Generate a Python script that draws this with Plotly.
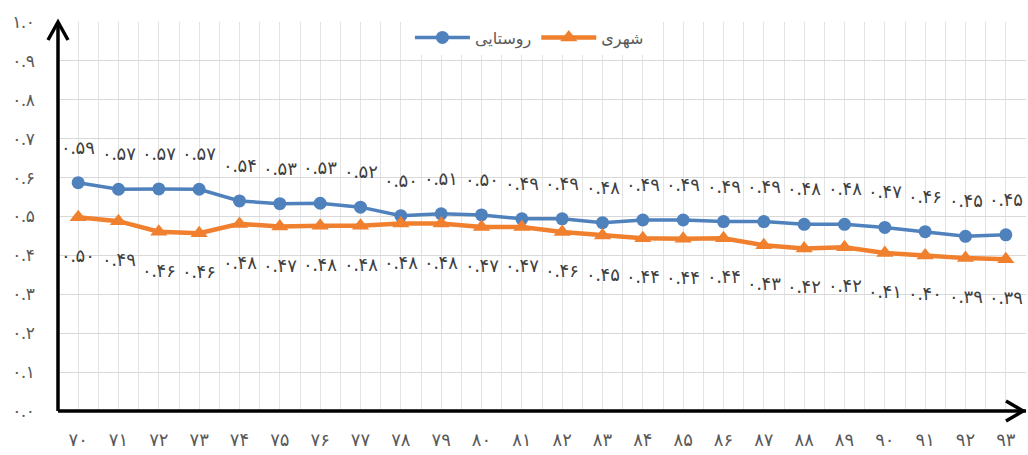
import plotly.graph_objects as go

years = list(range(70, 94))
rural = [0.587, 0.570, 0.571, 0.570, 0.540, 0.533, 0.534, 0.524, 0.502, 0.507, 0.504, 0.494,
         0.494, 0.484, 0.491, 0.491, 0.487, 0.487, 0.480, 0.480, 0.472, 0.461, 0.449, 0.453]
urban = [0.498, 0.488, 0.461, 0.457, 0.481, 0.474, 0.476, 0.476, 0.482, 0.482, 0.473, 0.473,
         0.460, 0.451, 0.444, 0.443, 0.444, 0.426, 0.418, 0.421, 0.406, 0.400, 0.393, 0.390]
rural_name = "روستایی"
urban_name = "شهری"
y_ticks = [i / 10 for i in range(11)]

FA = str.maketrans("0123456789", "۰۱۲۳۴۵۶۷۸۹")


def fa(s):
    return str(s).translate(FA)


FONT = "Noto Sans, DejaVu Sans, sans-serif"
GRAY = "#595959"

fig = go.Figure()
fig.add_trace(go.Scatter(
    x=years, y=rural, name=rural_name, mode="lines+markers",
    line=dict(color="#4F81BD", width=3.5),
    marker=dict(symbol="circle", size=13, color="#4F81BD"),
))
fig.add_trace(go.Scatter(
    x=years, y=urban, name=urban_name, mode="lines+markers",
    line=dict(color="#F07F2E", width=4.5),
    marker=dict(symbol="triangle-up", size=15, color="#F07F2E"),
))

annotations = []
for x, v in zip(years, rural):
    annotations.append(dict(x=x, y=v, text=fa(f"{v:.2f}"), showarrow=False, yshift=36,
                            font=dict(family=FONT, size=18, color="#404040")))
for x, v in zip(years, urban):
    annotations.append(dict(x=x, y=v, text=fa(f"{v:.2f}"), showarrow=False, yshift=-38,
                            font=dict(family=FONT, size=18, color="#404040")))

shapes = [
    dict(type="line", xref="paper", yref="paper", x0=0, x1=0, y0=0, y1=1,
         line=dict(color="black", width=3.5)),
    dict(type="path", xref="paper", yref="paper", xsizemode="pixel", ysizemode="pixel",
         xanchor=0, yanchor=1, path="M -10,-18 L 0,0 L 10,-18",
         line=dict(color="black", width=3.5)),
    dict(type="line", xref="paper", yref="paper", x0=0, x1=1, y0=0, y1=0,
         line=dict(color="black", width=3.5)),
    dict(type="path", xref="paper", yref="paper", xsizemode="pixel", ysizemode="pixel",
         xanchor=1, yanchor=0, path="M -20,10 L -3,0 L -20,-10",
         line=dict(color="black", width=3.5)),
]

fig.update_layout(
    width=1028, height=455,
    margin=dict(l=58, r=2, t=22, b=44),
    paper_bgcolor="white", plot_bgcolor="white",
    font=dict(family=FONT, color=GRAY, size=14),
    showlegend=True,
    legend=dict(orientation="h", x=0.487, xanchor="center", y=0.96, yanchor="middle",
                bgcolor="white", font=dict(size=16, color=GRAY), itemwidth=55,
                traceorder="normal"),
    annotations=annotations,
    shapes=shapes,
    xaxis=dict(
        range=[69.5, 93.5], tickvals=years, ticktext=[fa(y) for y in years],
        showgrid=True, gridcolor="#E3E3E3", gridwidth=1,
        minor=dict(dtick=0.5, tick0=69.5, showgrid=True, gridcolor="#E3E3E3", gridwidth=1),
        zeroline=False, showline=False, ticks="", ticklabelstandoff=16,
        tickfont=dict(size=18, color=GRAY), automargin=False,
    ),
    yaxis=dict(
        range=[0, 1.0], tickvals=y_ticks, ticktext=[fa(f"{t:.1f}") for t in y_ticks],
        showgrid=True, gridcolor="#D9D9D9", gridwidth=1,
        zeroline=False, showline=False, ticks="", ticklabelstandoff=22,
        tickfont=dict(size=17, color=GRAY), automargin=False,
    ),
)

fig.write_html("out.html", config={"displayModeBar": False},
               post_script="document.body.style.margin='0px';")
